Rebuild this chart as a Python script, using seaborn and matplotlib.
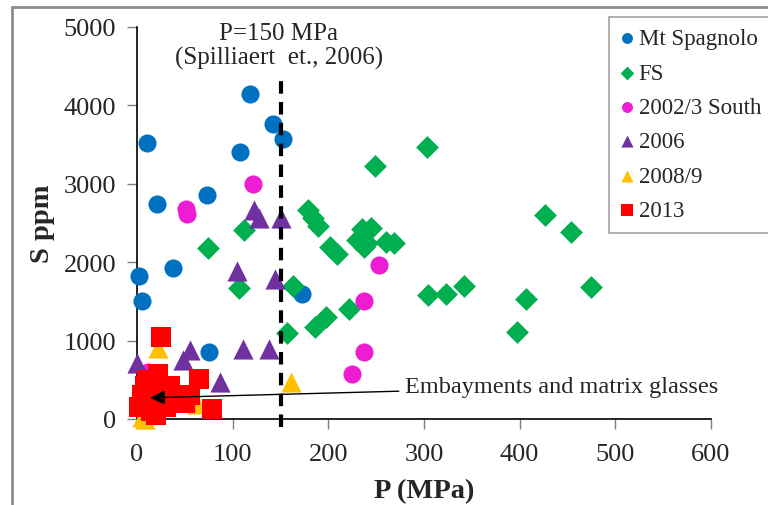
import matplotlib
matplotlib.use("Agg")
import matplotlib.pyplot as plt
import matplotlib.patches as mpatches
import numpy as np
import pandas as pd
import seaborn as sns

sns.set_theme(style="white")
plt.rcParams["font.family"] = ["Liberation Serif", "DejaVu Serif"]

# data (P in MPa, S in ppm)
spagnolo_p = [2, 5, 10, 21, 38, 73, 75, 108, 118, 142, 153, 172]
spagnolo_s = [1820, 1500, 3520, 2740, 1920, 2860, 850, 3400, 4140, 3760, 3570, 1600]

fs_p = [74, 107, 112, 157, 163, 179, 184, 189, 186, 198, 202, 209, 222, 230, 235,
        237, 240, 245, 249, 260, 269, 303, 304, 323, 342, 397, 407, 427, 454, 475]
fs_s = [2180, 1670, 2410, 1100, 1700, 2660, 2570, 2460, 1170, 1300, 2200, 2100, 1400,
        2280, 2420, 2200, 2250, 2440, 3230, 2260, 2240, 3470, 1580, 1600, 1700, 1110,
        1530, 2600, 2380, 1690]

south_p = [12, 51, 52, 121, 225, 237, 237, 253]
south_s = [600, 2680, 2620, 3000, 580, 860, 1500, 1960]

y2006_p = [0, 48, 55, 87, 105, 111, 122, 128, 138, 144, 151]
y2006_s = [710, 750, 880, 470, 1890, 890, 2670, 2560, 890, 1790, 2560]

y2008_p = [5, 8, 22, 63, 161]
y2008_s = [20, 0, 900, 190, 470]

y2013_p = [2, 5, 8, 10, 12, 15, 18, 20, 22, 25, 28, 30, 35, 40, 45, 50, 55, 65, 78]
y2013_s = [150, 300, 420, 500, 200, 100, 350, 50, 580, 1040, 250, 150, 420, 300,
           250, 200, 300, 510, 130]

groups = [
    ("Mt Spagnolo", spagnolo_p, spagnolo_s, "#0070C0", "o", 170),
    ("FS", fs_p, fs_s, "#00B050", "D", 135),
    ("2002/3 South", south_p, south_s, "#EE1CD2", "o", 170),
    ("2006", y2006_p, y2006_s, "#7030A0", "^", 210),
    ("2008/9", y2008_p, y2008_s, "#FFC000", "^", 210),
    ("2013", y2013_p, y2013_s, "#FF0000", "s", 210),
]

fig = plt.figure(figsize=(7.68, 5.06), dpi=100)
ax = fig.add_axes([137 / 768, 1 - 420 / 506, (711 - 137) / 768, (420 - 28) / 506])

for name, p, s, col, mk, sz in groups:
    df = pd.DataFrame({"P": p, "S": s})
    sns.scatterplot(data=df, x="P", y="S", ax=ax, color=col, marker=mk, s=sz,
                    linewidth=0, label=name, clip_on=False, zorder=3)

# P = 150 MPa line
ax.plot([150, 150], [-100, 4340], color="black", lw=3, dashes=(3, 2),
        clip_on=False, zorder=4)
ax.text(148, 4850, "P=150 MPa", ha="center", va="baseline", fontsize=18, clip_on=False)
ax.text(148, 4530, "(Spilliaert  et., 2006)", ha="center", va="baseline", fontsize=18,
        clip_on=False)

ax.annotate("Embayments and matrix glasses", xy=(14, 270), xytext=(280, 410),
            fontsize=17.5, ha="left", va="center",
            arrowprops=dict(arrowstyle="-|>", color="black", lw=1,
                            mutation_scale=22, shrinkA=2, shrinkB=0),
            zorder=5)

ax.set_xlim(0, 600)
ax.set_ylim(0, 5000)
ax.set_xticks(np.arange(0, 601, 100))
ax.set_yticks(np.arange(0, 5001, 1000))
ax.tick_params(axis="both", direction="out", length=7, width=1, color="#7f7f7f",
               labelsize=19, pad=8, left=True, bottom=True)
ax.tick_params(axis="x", pad=10)
for side in ["top", "right"]:
    ax.spines[side].set_visible(False)
for side in ["left", "bottom"]:
    ax.spines[side].set_color("black")
    ax.spines[side].set_linewidth(1.2)

ax.set_xlabel("P (MPa)", fontsize=20.5, fontweight="bold", labelpad=10)
ax.set_ylabel("S ppm", fontsize=20.5, fontweight="bold", labelpad=6)

leg = ax.legend(loc="upper left", bbox_to_anchor=(609 / 768, 1 - 18 / 506),
                bbox_transform=fig.transFigure, fontsize=16.5, markerscale=0.6,
                handlelength=0.6, handletextpad=0.2, labelspacing=0.58,
                borderpad=0.5, borderaxespad=0, frameon=True, fancybox=False)
leg.get_frame().set_edgecolor("#8c8c8c")
leg.get_frame().set_linewidth(1.2)

# outer frame of the original image
fig.patches.append(mpatches.Rectangle((12 / 768, -0.2), 1.5, 1.2 - 8 / 506,
                                      transform=fig.transFigure, fill=False,
                                      edgecolor="#8c8c8c", lw=2))

fig.savefig("out.png", dpi=100)
